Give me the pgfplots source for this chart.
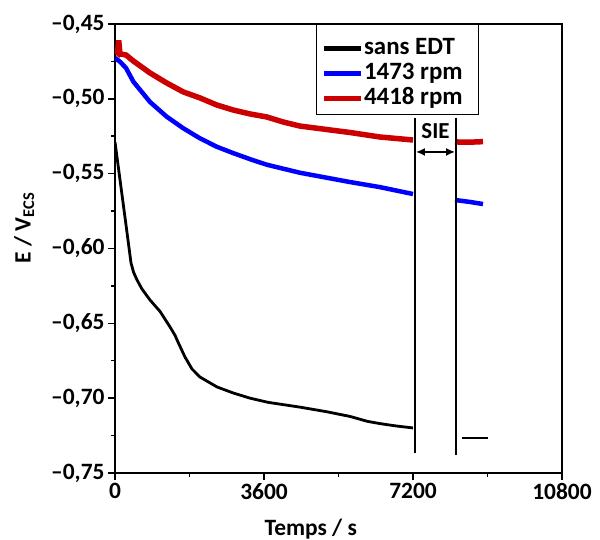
\documentclass[border=0pt]{standalone}
\usepackage{fontspec}
\setmainfont{Carlito}
\usepackage{pgfplots}
\pgfplotsset{compat=1.18}
\usetikzlibrary{arrows.meta}
\definecolor{myblue}{RGB}{0,0,255}
\definecolor{myred}{RGB}{204,0,0}
\begin{document}
\begin{tikzpicture}
\useasboundingbox (-115bp,-67bp) rectangle (485bp,473bp);
\begin{axis}[
  at={(0,0)}, anchor=south west,
  scale only axis, width=447bp, height=449bp,
  xmin=0, xmax=10800, ymin=-0.75, ymax=-0.45,
  scaled x ticks=false,
  xtick={0,3600,7200,10800}, xticklabels={0,3600,7200,10800},
  minor xtick={1800,5400,9000},
  ytick={-0.75,-0.70,-0.65,-0.60,-0.55,-0.50,-0.45},
  yticklabels={{--0,75},{--0,70},{--0,65},{--0,60},{--0,55},{--0,50},{--0,45}},
  minor ytick={-0.725,-0.675,-0.625,-0.575,-0.525,-0.475},
  tick align=outside, tick pos=left,
  major tick length=7bp, minor tick length=4bp,
  axis line style={line width=1.5bp},
  every tick/.style={black, line width=1.5bp},
  tick label style={font=\bfseries\fontsize{23.5}{26}\selectfont},
  xlabel={Temps / s}, ylabel={E / V\textsubscript{ECS}},
  label style={font=\bfseries\fontsize{23.5}{26}\selectfont},
  ylabel style={at={(ticklabel cs:0.546)}},
  xlabel style={at={(ticklabel cs:0.438)}},
  xlabel shift=12bp, ylabel shift=10bp,
  legend style={at={(rel axis cs:0.4497,1)}, anchor=north west, draw=black, line width=1bp,
    font=\bfseries\fontsize{25}{26}\selectfont, row sep=0bp, inner xsep=5bp, inner ysep=7.5bp,
    nodes={inner sep=0.5bp, text height=22bp, text depth=2bp}},
  legend cell align=left,
  legend image code/.code={\draw[#1, line width=5bp] (0bp,-4bp) -- (37bp,-4bp);},
]
% sans EDT
\addplot[black, line width=2.8bp] coordinates {
(0,-0.5288) (100,-0.5497) (200,-0.5705) (300,-0.5914) (387,-0.6097) (450,-0.6160)
(532,-0.6210) (650,-0.6270) (846,-0.6344) (1087,-0.6420) (1329,-0.6524) (1450,-0.6580) (1522,-0.6625)
(1691,-0.6725) (1860,-0.6805) (2054,-0.6859) (2464,-0.6925) (2851,-0.6965) (3262,-0.7000)
(3700,-0.7028) (4470,-0.7060) (5100,-0.7090) (5678,-0.7122) (6100,-0.7155) (6402,-0.7170) (6800,-0.7186) (7200,-0.7199)
};
\addlegendentry{sans EDT\hspace{18bp}\null}
% 1473 rpm
\addplot[myblue, line width=4.5bp] coordinates {
(0,-0.4727) (121,-0.4752) (266,-0.4794) (443,-0.4885) (846,-0.5021) (1248,-0.5119)
(1651,-0.5197) (2054,-0.5264) (2457,-0.5320) (2859,-0.5363) (3262,-0.5403) (3665,-0.5440)
(4067,-0.5467) (4470,-0.5494) (5678,-0.5556) (6402,-0.5590) (7200,-0.5636)
};
\addlegendentry{1473 rpm}
% 4418 rpm
\addplot[myred, line width=5.5bp] coordinates {
(0,-0.4674) (60,-0.4690) (90,-0.4610) (120,-0.4700) (266,-0.4707) (443,-0.4747) (846,-0.4827)
(1248,-0.4894) (1651,-0.4954) (2054,-0.4994) (2457,-0.5041) (2859,-0.5075) (3262,-0.5101)
(3665,-0.5121) (4067,-0.5155) (4470,-0.5182) (5678,-0.5225) (6402,-0.5255) (7200,-0.5275)
};
\addlegendentry{4418 rpm}
% after SIE
\addplot[black, line width=2.8bp, forget plot] coordinates {(8384,-0.7266) (9012,-0.7266)};
\addplot[myblue, line width=4.5bp, forget plot] coordinates {(8215,-0.5676) (8577,-0.5689) (8891,-0.5703)};
\addplot[myred, line width=5.5bp, forget plot] coordinates {(8215,-0.5288) (8550,-0.5290) (8891,-0.5286)};
% SIE lines
\addplot[black, line width=2bp, forget plot] coordinates {(7248,-0.5128) (7248,-0.7366)};
\addplot[black, line width=2bp, forget plot] coordinates {(8239,-0.5128) (8239,-0.7380)};
\addplot[black, line width=1.5bp, {Latex[length=9bp,width=8bp]}-{Latex[length=9bp,width=8bp]}, shorten <=1bp, shorten >=1bp, forget plot]
  coordinates {(7248,-0.5355) (8239,-0.5355)};
\node[font=\bfseries\fontsize{23}{24}\selectfont] at (axis cs:7744,-0.5215) {SIE};
\end{axis}
\end{tikzpicture}
\end{document}
